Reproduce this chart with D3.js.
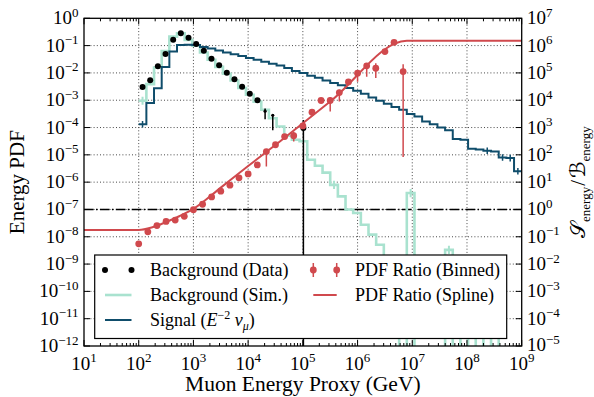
<!DOCTYPE html>
<html>
<head>
<meta charset="utf-8">
<script src="https://cdn.jsdelivr.net/npm/d3@7"></script>
<style>
  html, body { margin: 0; padding: 0; background: #fff; }
  svg { display: block; }
  text { font-family: "Liberation Serif", "DejaVu Serif", serif; fill: #000; }
  .cal { font-family: "DejaVu Sans", "DejaVu Serif", serif; }
</style>
</head>
<body>
<svg id="chart" width="594" height="397"></svg>
<script>
// ---- histogram binning: 50 log-spaced bins from 1e2 to 1e9 GeV (log10 edges) ----
const binEdgeExp = [
  2.00, 2.14, 2.28, 2.42, 2.56, 2.70, 2.84, 2.98, 3.12, 3.26,
  3.40, 3.54, 3.68, 3.82, 3.96, 4.10, 4.24, 4.38, 4.52, 4.66,
  4.80, 4.94, 5.08, 5.22, 5.36, 5.50, 5.64, 5.78, 5.92, 6.06,
  6.20, 6.34, 6.48, 6.62, 6.76, 6.90, 7.04, 7.18, 7.32, 7.46,
  7.60, 7.74, 7.88, 8.02, 8.16, 8.30, 8.44, 8.58, 8.72, 8.86, 9.00
];

// ---- signal PDF (E^-2 nu_mu), log10 per bin ----
const signalExp = [
  -3.88, -3.10, -2.56, -1.78, -1.22, -0.98, -0.97, -0.98, -1.05, -1.11,
  -1.18, -1.25, -1.32, -1.38, -1.45, -1.52, -1.59, -1.66, -1.73, -1.82,
  -1.93, -2.00, -2.10, -2.18, -2.28, -2.37, -2.45, -2.55, -2.65, -2.76,
  -2.90, -3.02, -3.13, -3.25, -3.35, -3.50, -3.60, -3.78, -3.88, -4.00,
  -4.10, -4.42, -4.45, -4.78, -4.80, -4.85, -4.88, -5.10, -5.12, -5.60
];
// bins of the signal histogram that carry a visible error bar
const signalErrBins = [0, 45, 47, 48, 49];

// ---- simulated background PDF, log10 per bin (null = empty bin) ----
const bgSimExp = [
  -3.02, -2.41, -1.80, -1.20, -0.67, -0.55, -0.79, -1.00, -1.25, -1.52,
  -1.78, -2.03, -2.28, -2.55, -2.80, -3.05, -3.35, -3.66, -3.96, -4.30,
  -4.45, -4.50, -5.18, -5.40, -5.65, -6.10, -6.52, -7.00, -7.13, -7.56,
  -7.92, -8.29, -8.80, -9.30, null, -6.40, null, null, null, null,
  -8.48, null, -9.60, null, -10.2, null, -10.5, null, null, null
];
const bgSimErrBins = [0, 25, 35, 40];

// ---- background data PDF, log10 per bin, with error bar limits ----
const bgDataExp = [
  -2.52, -2.27, -1.755, -1.305, -0.79, -0.55, -0.71, -0.94, -1.185, -1.477,
  -1.72, -1.99, -2.23, -2.51, -2.76, -3.00, -3.40, -3.55, null, null,
  null, -4.02
];
const bgDataErrLo = { 16: -3.70, 17: -4.10, 21: -13 };
const bgDataErrHi = { 16: -3.30, 17: -3.50, 21: -3.72 };

// ---- binned signal/background ratio (right axis), log10 ----
const ratioEnergyExp = [
  2.000, 2.167, 2.333, 2.500, 2.667, 2.833, 3.000, 3.167, 3.333, 3.500,
  3.667, 3.833, 4.000, 4.167, 4.333, 4.500, 4.667, 4.833, 5.000, 5.167,
  5.333, 5.500, 5.667, 5.833, 6.000, 6.167, 6.333, 6.500, 6.667, 6.833
];
const ratioExp = [
  -1.26, -0.82, -0.59, -0.44, -0.39, -0.25, -0.01, 0.19, 0.46, 0.67,
  0.89, 1.16, 1.30, 1.63, 2.12, 2.37, 2.67, 2.70, 3.06, 3.56,
  3.99, 3.99, 4.28, 4.67, 4.99, 5.26, 5.17, 5.78, 6.12, 5.05
];
const ratioErrLo = { 14: 1.57, 17: 2.49, 21: 3.59, 22: 3.95, 24: 4.68, 25: 4.86, 26: 4.81, 29: 1.92 };
const ratioErrHi = { 14: 2.18, 17: 2.85, 21: 4.12, 22: 4.38, 24: 5.11, 25: 5.35, 26: 5.35, 29: 5.32 };

// ---- spline fit of the ratio (right axis), knots in log10 ----
const splineEnergyExp = [1.0, 2.0, 2.25, 2.5, 2.75, 3.0, 3.5, 4.0, 4.58, 5.5, 6.9, 9.0];
const splineRatioExp  = [-0.75, -0.75, -0.65, -0.46, -0.24, 0.02, 0.80, 1.59, 2.49, 3.95, 6.18, 6.18];

// ---- axes ----
const xTickExp = [1, 2, 3, 4, 5, 6, 7, 8, 9];
const yLeftTickExp = [0, -1, -2, -3, -4, -5, -6, -7, -8, -9, -10, -11, -12];
const yRightTickExp = [7, 6, 5, 4, 3, 2, 1, 0, -1, -2, -3, -4, -5];
const unityRatio = 1;   // S/B = 1 reference line

const legendRows = [
  ["Background (Data)", "PDF Ratio (Binned)"],
  ["Background (Sim.)", "PDF Ratio (Spline)"],
  ["Signal", null]
];

const colors = {
  signal: "#0f4d6b",
  bgSim: "#a9e2cf",
  data: "#000000",
  ratio: "#d0494d"
};

const p = 10;
const pw = e => Math.pow(p, e);

const svg = d3.select("#chart");
const L = 84, R = 521.7, T = 18.3, B = 346;

const x = d3.scaleLog().domain([1e1, 1e9]).range([L, R]);
const yL = d3.scaleLog().domain([1e-12, 1]).range([B, T]);
const yR = d3.scaleLog().domain([1e-5, 1e7]).range([B, T]);

svg.append("defs").append("clipPath").attr("id", "plotclip")
  .append("rect").attr("x", L).attr("y", T).attr("width", R - L).attr("height", B - T);

// grid
const grid = svg.append("g").attr("stroke", "#333").attr("stroke-width", 0.9)
  .attr("stroke-dasharray", "1,2.2");
xTickExp.slice(1, -1).forEach(e => {
  grid.append("line").attr("x1", x(pw(e))).attr("x2", x(pw(e))).attr("y1", T).attr("y2", B);
});
yLeftTickExp.slice(1, -1).forEach(e => {
  grid.append("line").attr("x1", L).attr("x2", R).attr("y1", yL(pw(e))).attr("y2", yL(pw(e)));
});

const plot = svg.append("g").attr("clip-path", "url(#plotclip)");

// S/B = 1 line
plot.append("line")
  .attr("x1", L).attr("x2", R)
  .attr("y1", yR(unityRatio)).attr("y2", yR(unityRatio))
  .attr("stroke", "#000").attr("stroke-width", 1.5)
  .attr("stroke-dasharray", "9.6,2.4,1.5,2.4");

// step path for a histogram; empty bins drop to the axis floor
function stepPath(vals, yScale, floor) {
  const pts = [];
  vals.forEach((v, i) => {
    const yv = yScale(v == null ? floor : pw(v));
    pts.push([x(pw(binEdgeExp[i])), yv]);
    pts.push([x(pw(binEdgeExp[i + 1])), yv]);
  });
  return d3.line()(pts);
}
function binCenter(i) { return x(pw((binEdgeExp[i] + binEdgeExp[i + 1]) / 2)); }

// simulated background
plot.append("path")
  .attr("d", stepPath(bgSimExp, yL, 1e-13))
  .attr("fill", "none").attr("stroke", colors.bgSim).attr("stroke-width", 2.6);
bgSimErrBins.forEach(i => {
  const v = bgSimExp[i];
  plot.append("line").attr("x1", binCenter(i)).attr("x2", binCenter(i))
    .attr("y1", yL(pw(v - 0.15))).attr("y2", yL(pw(v + 0.15)))
    .attr("stroke", colors.bgSim).attr("stroke-width", 2);
});

// signal
plot.append("path")
  .attr("d", stepPath(signalExp, yL, 1e-13))
  .attr("fill", "none").attr("stroke", colors.signal).attr("stroke-width", 2);
signalErrBins.forEach(i => {
  const v = signalExp[i];
  plot.append("line").attr("x1", binCenter(i)).attr("x2", binCenter(i))
    .attr("y1", yL(pw(v - 0.12))).attr("y2", yL(pw(v + 0.12)))
    .attr("stroke", colors.signal).attr("stroke-width", 1.5);
});

// background data
bgDataExp.forEach((v, i) => {
  if (v == null) return;
  const cx = binCenter(i);
  if (bgDataErrLo[i] != null) {
    plot.append("line").attr("x1", cx).attr("x2", cx)
      .attr("y1", yL(pw(bgDataErrLo[i]))).attr("y2", yL(pw(bgDataErrHi[i])))
      .attr("stroke", colors.data).attr("stroke-width", 1.5);
  }
  plot.append("circle").attr("cx", cx).attr("cy", yL(pw(v)))
    .attr("r", (bgDataErrLo[i] != null && i !== 21) ? 1.6 : 3).attr("fill", colors.data);
});

// binned ratio
ratioExp.forEach((v, i) => {
  const cx = x(pw(ratioEnergyExp[i]));
  if (ratioErrLo[i] != null) {
    plot.append("line").attr("x1", cx).attr("x2", cx)
      .attr("y1", yR(pw(ratioErrLo[i]))).attr("y2", yR(pw(ratioErrHi[i])))
      .attr("stroke", colors.ratio).attr("stroke-width", 1.5);
  }
  plot.append("circle").attr("cx", cx).attr("cy", yR(pw(v)))
    .attr("r", 3.4).attr("fill", colors.ratio);
});

// ratio spline
plot.append("path")
  .attr("d", d3.line().curve(d3.curveMonotoneX)
    .x((d, i) => x(pw(d)))
    .y((d, i) => yR(pw(splineRatioExp[i])))(splineEnergyExp))
  .attr("fill", "none").attr("stroke", colors.ratio).attr("stroke-width", 2);

// ---- legend ----
const lg = svg.append("g");
lg.append("rect").attr("x", 94.7).attr("y", 255).attr("width", 412).attr("height", 83.5)
  .attr("fill", "#fff").attr("stroke", "#000").attr("stroke-width", 1.2);
const rowY = [270, 295, 320];
const col = [{ m0: 105, m1: 131.5, tx: 150 }, { m0: 313.3, m1: 336.7, tx: 355 }];
// row 1
[col[0].m0, col[0].m1].forEach(cx => lg.append("circle").attr("cx", cx).attr("cy", rowY[0]).attr("r", 3).attr("fill", colors.data));
[col[1].m0, col[1].m1].forEach(cx => {
  lg.append("line").attr("x1", cx).attr("x2", cx).attr("y1", rowY[0] - 7).attr("y2", rowY[0] + 7)
    .attr("stroke", colors.ratio).attr("stroke-width", 1.5);
  lg.append("circle").attr("cx", cx).attr("cy", rowY[0]).attr("r", 3.4).attr("fill", colors.ratio);
});
// rows 2,3
lg.append("line").attr("x1", col[0].m0).attr("x2", col[0].m1).attr("y1", rowY[1]).attr("y2", rowY[1])
  .attr("stroke", colors.bgSim).attr("stroke-width", 2.6);
lg.append("line").attr("x1", col[1].m0).attr("x2", col[1].m1).attr("y1", rowY[1]).attr("y2", rowY[1])
  .attr("stroke", colors.ratio).attr("stroke-width", 2);
lg.append("line").attr("x1", col[0].m0).attr("x2", col[0].m1).attr("y1", rowY[2]).attr("y2", rowY[2])
  .attr("stroke", colors.signal).attr("stroke-width", 2);

const lfs = 18;
legendRows.forEach((row, r) => {
  row.forEach((label, c) => {
    if (!label) return;
    const t = lg.append("text").attr("x", col[c].tx).attr("y", rowY[r] + 5.5).attr("font-size", lfs).text(label);
    if (label === "Signal") {
      t.append("tspan").text(" (");
      t.append("tspan").attr("font-style", "italic").text("E");
      t.append("tspan").attr("dy", -7).attr("font-size", 12).text("−2");
      t.append("tspan").attr("dy", 7).text(" ");
      t.append("tspan").attr("font-style", "italic").text("ν");
      t.append("tspan").attr("dy", 4).attr("font-size", 12).attr("font-style", "italic").text("μ");
      t.append("tspan").attr("dy", -4).text(")");
    }
  });
});

// ---- frame and ticks ----
const axes = svg.append("g");
axes.append("rect").attr("x", L).attr("y", T).attr("width", R - L).attr("height", B - T)
  .attr("fill", "none").attr("stroke", "#000").attr("stroke-width", 1.3);

function expLabel(sel, e) {
  sel.text("10");
  sel.append("tspan").attr("dy", -7.5).attr("font-size", 13).text(e < 0 ? "−" + (-e) : String(e));
}
const tk = axes.append("g").attr("stroke", "#000").attr("stroke-width", 1);
xTickExp.forEach(e => {
  const xx = x(pw(e));
  tk.append("line").attr("x1", xx).attr("x2", xx).attr("y1", B).attr("y2", B - 6);
  tk.append("line").attr("x1", xx).attr("x2", xx).attr("y1", T).attr("y2", T + 6);
  if (e < 9) {
    for (let m = 2; m <= 9; m++) {
      const xm = x(m * pw(e));
      tk.append("line").attr("x1", xm).attr("x2", xm).attr("y1", B).attr("y2", B - 3);
      tk.append("line").attr("x1", xm).attr("x2", xm).attr("y1", T).attr("y2", T + 3);
    }
  }
  axes.append("text").attr("x", xx).attr("y", 369.5).attr("text-anchor", "middle")
    .attr("font-size", 19).call(expLabel, e);
});
yLeftTickExp.forEach(e => {
  const yy = yL(pw(e));
  tk.append("line").attr("x1", L).attr("x2", L + 6).attr("y1", yy).attr("y2", yy);
  axes.append("text").attr("x", 78.5).attr("y", yy + 6).attr("text-anchor", "end")
    .attr("font-size", 19).call(expLabel, e);
});
yRightTickExp.forEach(e => {
  const yy = yR(pw(e));
  tk.append("line").attr("x1", R).attr("x2", R - 6).attr("y1", yy).attr("y2", yy);
  axes.append("text").attr("x", 527).attr("y", yy + (e === -5 ? 5 : 6)).attr("text-anchor", "start")
    .attr("font-size", 19).call(expLabel, e);
});

// axis titles
svg.append("text").attr("x", (L + R) / 2).attr("y", 391).attr("text-anchor", "middle")
  .attr("font-size", 21.5).text("Muon Energy Proxy (GeV)");
svg.append("text").attr("transform", `translate(24,${(T + B) / 2}) rotate(-90)`)
  .attr("text-anchor", "middle").attr("font-size", 21).text("Energy PDF");
const rt = svg.append("text").attr("transform", `translate(585,${(T + B) / 2}) rotate(-90)`)
  .attr("text-anchor", "middle").attr("font-size", 21);
rt.append("tspan").attr("class", "cal").text("𝒮");
rt.append("tspan").attr("dy", 4.5).attr("font-size", 13).text("energy");
rt.append("tspan").attr("dy", -4.5).attr("dx", 1).text("/");
rt.append("tspan").attr("class", "cal").attr("dx", 2).text("ℬ");
rt.append("tspan").attr("dy", 4.5).attr("font-size", 13).text("energy");
</script>
</body>
</html>
